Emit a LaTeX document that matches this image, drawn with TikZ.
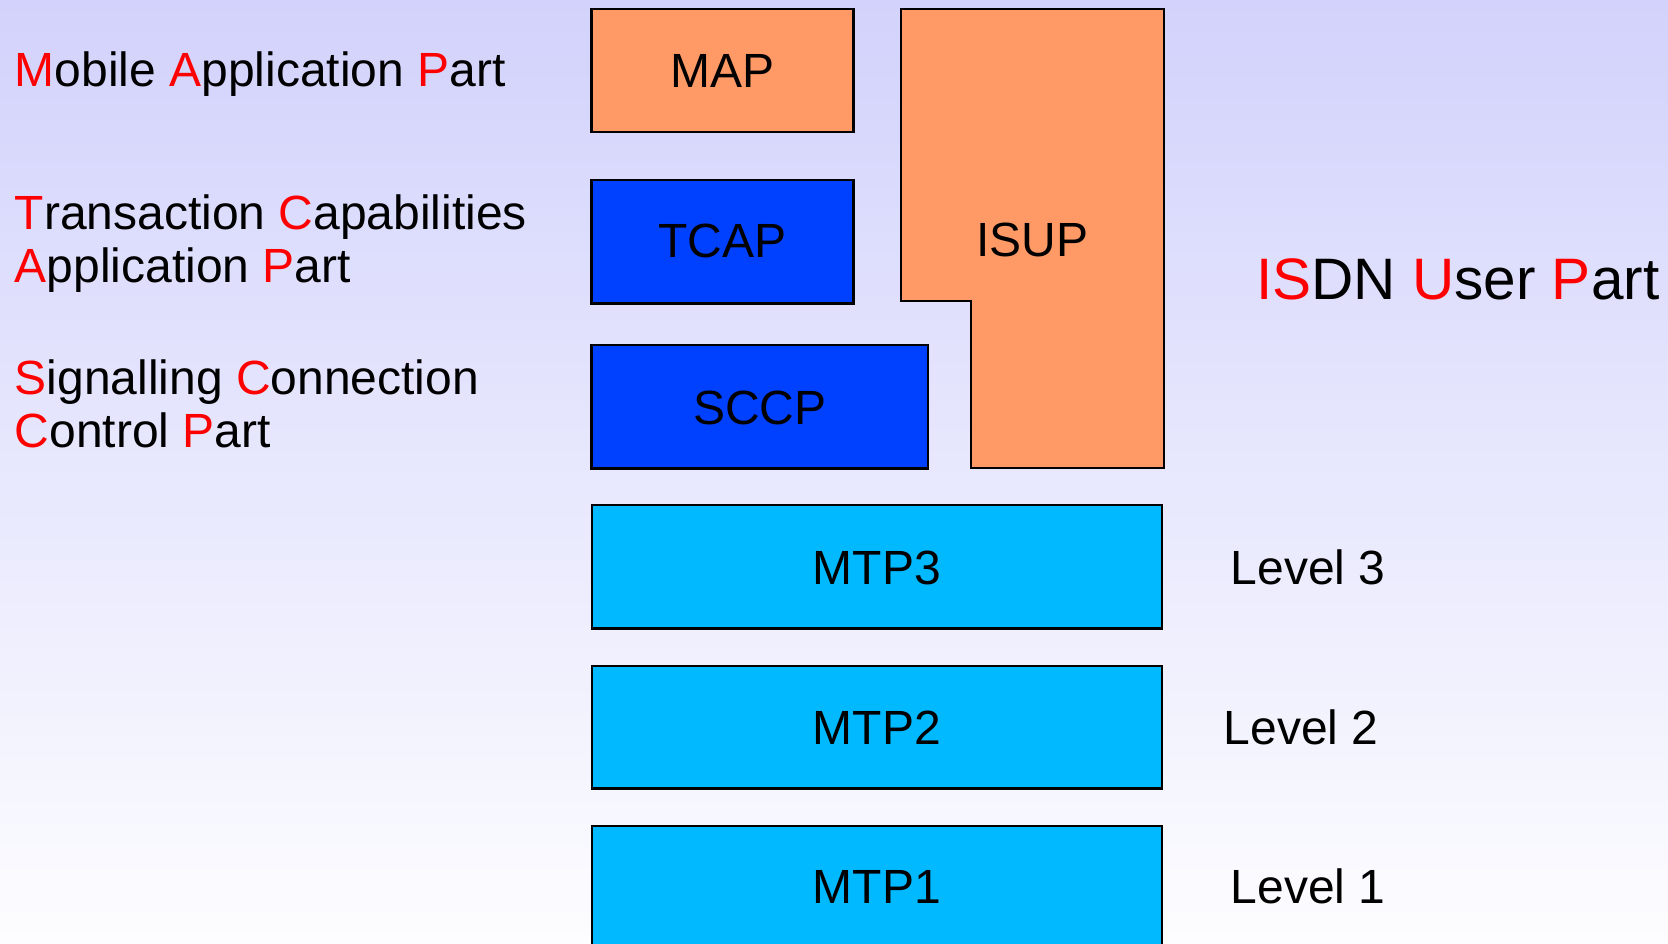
\documentclass[tikz,border=0pt]{standalone}
\usepackage{fontspec}
\setmainfont{Liberation Sans}
\definecolor{bgtop}{RGB}{210,210,252}
\definecolor{bgbot}{RGB}{253,253,255}
\definecolor{orangebox}{RGB}{255,153,102}
\definecolor{bluebox}{RGB}{0,64,255}
\definecolor{cyanbox}{RGB}{0,185,255}
\definecolor{hl}{RGB}{255,0,0}
\newcommand{\R}[1]{\textcolor{hl}{#1}}
\begin{document}
\begin{tikzpicture}[x=1pt,y=-1pt,
  layerbox/.style={draw=black,line width=2.4pt,line join=miter},
  boxlabel/.style={anchor=base,inner sep=0pt,font=\fontsize{48}{53}\selectfont},
  sidelabel/.style={anchor=base west,inner sep=0pt,align=left,font=\fontsize{48}{53}\selectfont},
]
\useasboundingbox (0,0) rectangle (1668,944);
\clip (0,0) rectangle (1668,944);
\shade[top color=bgtop,bottom color=bgbot] (0,0) rectangle (1668,944);

% boxes
\draw[layerbox,fill=orangebox] (591.6,9.3) rectangle (853.4,132.3);
\draw[layerbox,fill=bluebox] (591.6,180) rectangle (853.4,303.3);
\draw[layerbox,fill=bluebox] (591.6,345) rectangle (927.7,468.3);
\draw[layerbox,fill=orangebox] (900.8,9.3) -- (1163.8,9.3) -- (1163.8,467.7)
   -- (971.2,467.7) -- (971.2,301) -- (900.8,301) -- cycle;
\draw[layerbox,fill=cyanbox] (591.8,505) rectangle (1161.8,628.3);
\draw[layerbox,fill=cyanbox] (591.8,665.7) rectangle (1161.8,788.3);
\draw[layerbox,fill=cyanbox] (591.8,825.7) rectangle (1161.8,960);

% box labels
\node[boxlabel] (map) at (722.5,88) {MAP};
\node[boxlabel] (tcap) at (722.5,257.5) {TCAP};
\node[boxlabel] (sccp) at (759.7,424) {SCCP};
\node[boxlabel] (isup) at (1032.3,256) {ISUP};
\node[boxlabel] (mtp3) at (876.8,584) {MTP3};
\node[boxlabel] (mtp2) at (876.8,744) {MTP2};
\node[boxlabel] (mtp1) at (876.8,903.3) {MTP1};

% side labels (base = baseline of last line)
\node[sidelabel] (mapt) at (14.5,87) {\R{M}obile \R{A}pplication \R{P}art};
\node[sidelabel] (tcapt) at (14.5,282) {\R{T}ransaction \R{C}apabilities\\\R{A}pplication \R{P}art};
\node[sidelabel] (sccpt) at (14.5,447) {\R{S}ignalling \R{C}onnection\\\R{C}ontrol \R{P}art};
\node[anchor=base west,inner sep=0pt,font=\fontsize{58.5}{64}\selectfont] (isupt) at (1256,299) {\R{IS}DN \R{U}ser \R{P}art};
\node[sidelabel] (l3) at (1230.5,584) {Level 3};
\node[sidelabel] (l2) at (1223.5,744) {Level 2};
\node[sidelabel] (l1) at (1230.5,903.3) {Level 1};
\end{tikzpicture}
\end{document}
